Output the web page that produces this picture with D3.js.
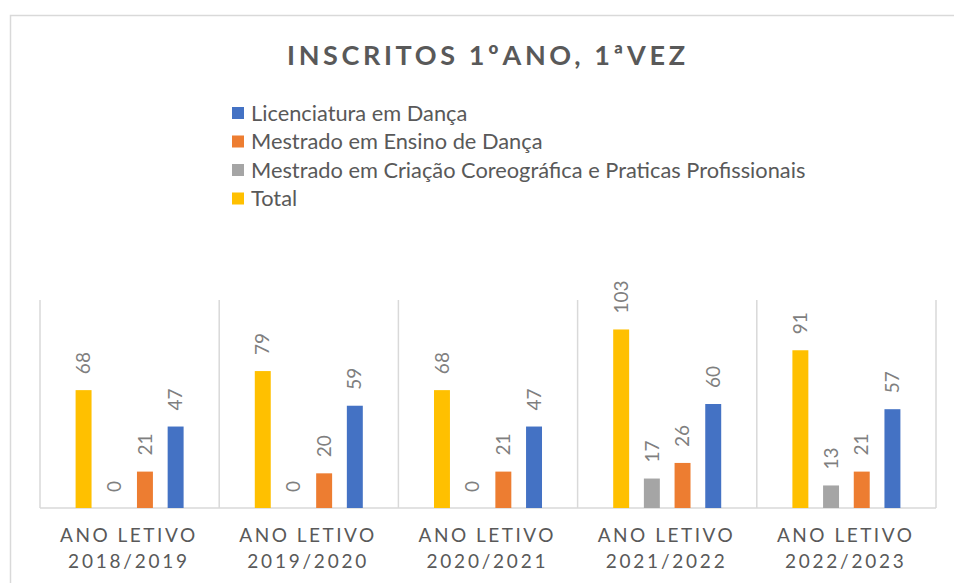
<!DOCTYPE html>
<html>
<head>
<meta charset="utf-8">
<script src="https://cdn.jsdelivr.net/npm/d3@7"></script>
<style>
  body { margin: 0; background: #fff; }
  text { font-family: Lato, "Open Sans", sans-serif; }
</style>
</head>
<body>
<div id="chart"></div>
<script>
// academic years (two-line tick labels)
var anos = ["2018/2019", "2019/2020", "2020/2021", "2021/2022", "2022/2023"];
var tickPrefix = "ANO LETIVO";

// series, in the order they appear in the legend
var seriesNames = [
  "Licenciatura em Dança",
  "Mestrado em Ensino de Dança",
  "Mestrado em Criação Coreográfica e Praticas Profissionais",
  "Total"
];
var licenciatura = [47, 59, 47, 60, 57];
var ensino = [21, 20, 21, 26, 21];
var criacao = [0, 0, 0, 17, 13];
var total = [68, 79, 68, 103, 91];

var colors = ["#4472C4", "#ED7D31", "#A5A5A5", "#FFC000"];
var seriesValues = [licenciatura, ensino, criacao, total];

var svgWidth = 954, svgHeight = 583;
var margin = { top: 300, right: 18, bottom: 75, left: 40 };
var width = svgWidth - margin.left - margin.right;
var height = svgHeight - margin.top - margin.bottom;

var svg = d3.select("#chart").append("svg")
  .attr("width", svgWidth)
  .attr("height", svgHeight);

// outer chart border (only top and left visible)
svg.append("rect")
  .attr("x", 10.5).attr("y", 15.5)
  .attr("width", 1200).attr("height", 1200)
  .attr("fill", "none")
  .attr("stroke", "#d9d9d9")
  .attr("stroke-width", 1.5);

// title
svg.append("text")
  .attr("x", 486).attr("y", 65)
  .attr("text-anchor", "middle")
  .attr("font-size", 27)
  .attr("font-weight", "bold")
  .attr("fill", "#595959")
  .attr("textLength", 398)
  .attr("lengthAdjust", "spacing")
  .text("INSCRITOS 1ºANO, 1ªVEZ");

// legend
var legend = svg.append("g").attr("transform", "translate(232, 113)");
var legendRows = legend.selectAll("g").data(seriesNames).enter().append("g")
  .attr("transform", (d, i) => `translate(0, ${i * 28.5})`);
legendRows.append("rect")
  .attr("x", 0).attr("y", -6)
  .attr("width", 12).attr("height", 12)
  .attr("fill", (d, i) => colors[i]);
legendRows.append("text")
  .attr("x", 19).attr("dy", "0.36em")
  .attr("font-size", 21.8)
  .attr("fill", "#595959")
  .text(d => d);

var chartGroup = svg.append("g")
  .attr("transform", `translate(${margin.left}, ${margin.top})`);

// scales
var x0 = d3.scaleBand().domain(anos).range([0, width]).padding(0);
// bars drawn left to right: Total, Criação, Ensino, Licenciatura
var barOrder = [3, 2, 1, 0];
var x1 = d3.scaleBand().domain(barOrder)
  .range([0, x0.bandwidth()])
  .paddingInner(0.48).paddingOuter(1.16);
var y = d3.scaleLinear().domain([0, 120]).range([height, 0]);

// vertical category separators
var seps = d3.range(anos.length + 1).map(i => i * x0.step());
chartGroup.selectAll("line.sep").data(seps).enter().append("line")
  .attr("class", "sep")
  .attr("x1", d => d).attr("x2", d => d)
  .attr("y1", 0).attr("y2", height)
  .attr("stroke", "#d9d9d9").attr("stroke-width", 1.5);

// baseline
chartGroup.append("line")
  .attr("x1", 0).attr("x2", width)
  .attr("y1", height).attr("y2", height)
  .attr("stroke", "#d9d9d9").attr("stroke-width", 1.5);

// bars + labels
var groups = chartGroup.selectAll("g.cat").data(anos).enter().append("g")
  .attr("class", "cat")
  .attr("transform", d => `translate(${x0(d)}, 0)`);

groups.each(function(ano, ci) {
  var g = d3.select(this);
  var rows = barOrder.map(si => ({ si: si, v: seriesValues[si][ci] }));
  g.selectAll("rect").data(rows).enter().append("rect")
    .attr("x", d => x1(d.si))
    .attr("y", d => y(d.v))
    .attr("width", x1.bandwidth())
    .attr("height", d => height - y(d.v))
    .attr("fill", d => colors[d.si]);
  g.selectAll("text").data(rows).enter().append("text")
    .attr("transform", d => `translate(${x1(d.si) + x1.bandwidth() / 2}, ${y(d.v) - 16}) rotate(-90)`)
    .attr("dy", "0.35em")
    .attr("font-size", 19)
    .attr("fill", "#7f7f7f")
    .text(d => d.v);
});

// x axis tick labels (two lines)
var ticks = chartGroup.selectAll("g.tick").data(anos).enter().append("g")
  .attr("class", "tick")
  .attr("transform", d => `translate(${x0(d) + x0.bandwidth() / 2 - 2}, ${height})`);
ticks.append("text")
  .attr("y", 34)
  .attr("text-anchor", "middle")
  .attr("font-size", 19)
  .attr("fill", "#595959")
  .attr("textLength", 135)
  .attr("lengthAdjust", "spacing")
  .text(tickPrefix);
ticks.append("text")
  .attr("y", 60)
  .attr("text-anchor", "middle")
  .attr("font-size", 19)
  .attr("fill", "#595959")
  .attr("textLength", 119)
  .attr("lengthAdjust", "spacing")
  .text(d => d);
</script>
</body>
</html>
